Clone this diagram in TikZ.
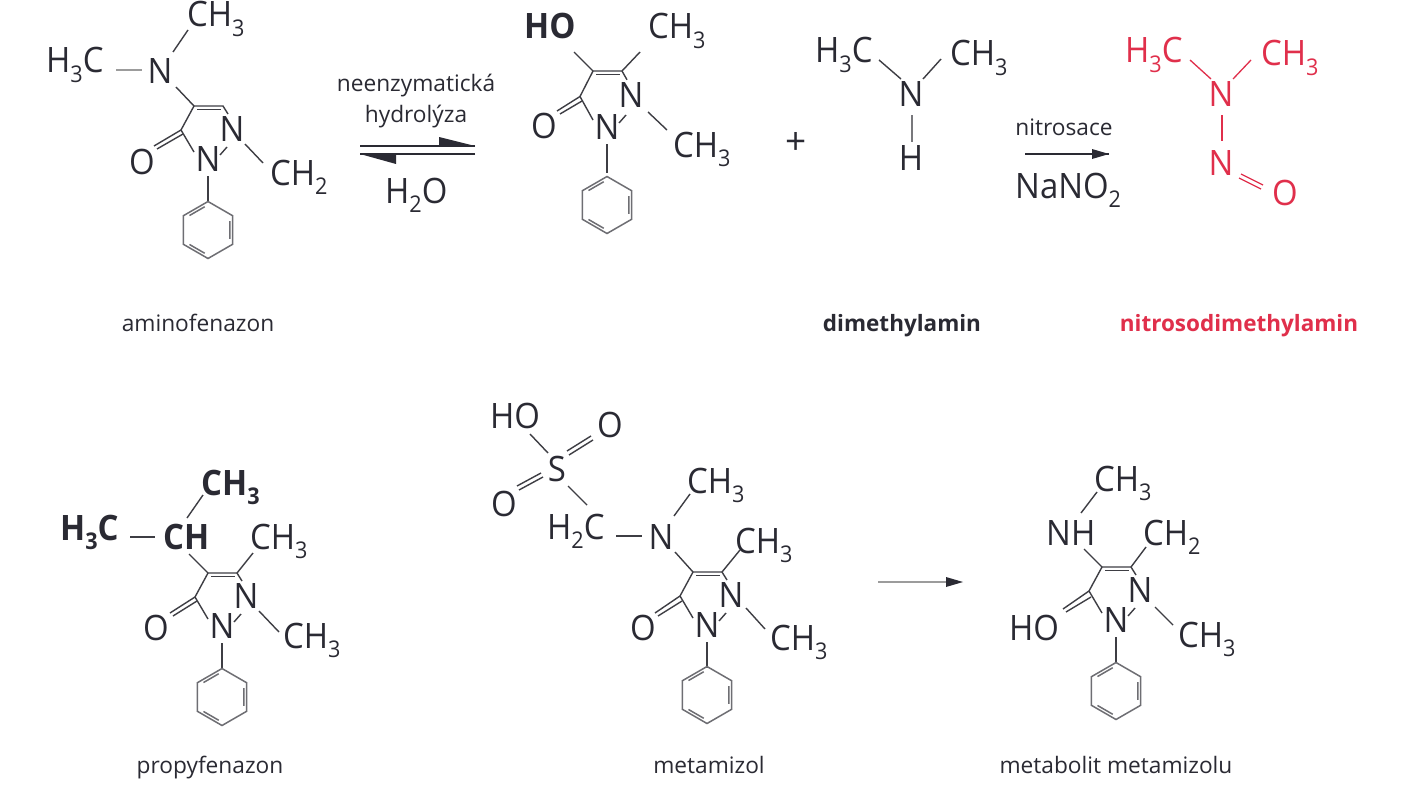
\documentclass[tikz,border=0pt]{standalone}
\usepackage{fontspec}
\setmainfont{Open Sans}
\newfontfamily\atomfont[FakeStretch=0.94]{Open Sans}
\usetikzlibrary{arrows.meta}
\definecolor{ink}{HTML}{2A2A33}
\definecolor{bondc}{HTML}{3E3E44}
\definecolor{softc}{HTML}{9C9C9C}
\definecolor{redc}{HTML}{E02F4B}
\newcommand\subs[1]{\raisebox{-0.26em}{\fontsize{23}{23}\selectfont #1}}
\tikzset{
  x=1pt,y=-1pt,
  atomw/.style={inner sep=0pt,anchor=base west,yshift=-13pt,font=\atomfont\fontsize{35}{35}\selectfont,text=ink},
  atomc/.style={inner sep=0pt,anchor=base,yshift=-13pt,font=\atomfont\fontsize{35}{35}\selectfont,text=ink},
  boldw/.style={atomw,font=\atomfont\fontsize{35}{35}\selectfont\bfseries},
  caption/.style={inner sep=0pt,anchor=base,font=\fontsize{22.7}{22.7}\selectfont,text=ink},
  boldcaption/.style={caption,font=\fontsize{22.5}{22.5}\selectfont\bfseries},
  bond/.style={draw=bondc,line width=1.4pt},
  ringbond/.style={draw=bondc!75,line width=1.5pt},
  softbond/.style={draw=softc,line width=2.4pt},
  redbond/.style={draw=redc,line width=1.3pt},
  arrowline/.style={draw=ink,line width=1.4pt},
  softarrow/.style={draw=softc,line width=2.4pt},
  headfill/.style={fill=ink,draw=none},
}
% phenyl ring: prefix, centre x, centre y
\newcommand\phenyl[3]{%
  \begin{scope}[shift={(#2,#3)}]
    \coordinate (#1p1) at (270:28.5); \coordinate (#1p2) at (330:28.5);
    \coordinate (#1p3) at (30:28.5);  \coordinate (#1p4) at (90:28.5);
    \coordinate (#1p5) at (150:28.5); \coordinate (#1p6) at (210:28.5);
    \draw[ringbond,line join=miter] (#1p1)--(#1p2)--(#1p3)--(#1p4)--(#1p5)--(#1p6)--cycle;
    \draw[ringbond] (262:23.5)--(218:23.5) (338:23.5)--(22:23.5) (98:23.5)--(142:23.5);
  \end{scope}}
% pyrazolone core: prefix, C4 x, C4 y, stretch of lower part
\newcommand\core[4]{%
  \begin{scope}[shift={(#2,#3)}]
    \coordinate (#1c4) at (0,0);
    \coordinate (#1c5) at (29,0);
    \coordinate (#1c3) at (-13,{24+#4/2});
    \node[atomc] (#1n2) at (38,{22+#4/2}) {N};
    \node[atomc] (#1n1) at (14,{52+#4}) {N};
    \coordinate (#1e1) at (34,{8+#4/4});
    \coordinate (#1e2) at (0,{46+#4});
    \coordinate (#1e3) at (26,{49+#4});
    \coordinate (#1e4) at (33,{41+#4});
    \coordinate (#1e5) at (14,{70+#4});
    \coordinate (#1e6) at (14,{96+#4*2});
    \coordinate (#1i1) at (3,3.5);
    \coordinate (#1i2) at (27,3.5);
    \draw[bond] (#1c3)--(#1c4)--(#1c5)--(#1e1);
    \draw[bond] (#1i1)--(#1i2);
    \draw[bond] (#1c3)--(#1e2);
    \draw[bond] (#1e3)--(#1e4);
    \draw[bond] (#1e5)--(#1e6);
  \end{scope}}
\begin{document}
\begin{tikzpicture}
\useasboundingbox (0,0) rectangle (1407,800);
\fill[white] (0,0) rectangle (1407,800);

% ---------- aminofenazon
\core{a}{194}{106}{0}
\phenyl{a}{208}{230}
\node[atomw] (aH) at (46,60) {H\subs{3}C};
\node[atomc] (aN) at (160,70) {N};
\node[atomw] (aM) at (187,14) {CH\subs{3}};
\node[atomc] (aO) at (142,161) {O};
\node[atomw] (aR) at (270,172) {CH\subs{2}};
\coordinate (ab1) at (116,70); \coordinate (ab2) at (142,70);
\coordinate (ab3) at (188,30); \coordinate (ab4) at (173,52);
\coordinate (ab5) at (176,87);
\coordinate (ab6) at (154,146); \coordinate (ab7) at (183,134); \coordinate (ab8) at (157,149);
\coordinate (ab9) at (245,144); \coordinate (ab10) at (263,163);
\draw[softbond] (ab1)--(ab2);
\draw[bond] (ab3)--(ab4);
\draw[bond] (ab5)--(ac4);
\draw[bond] (ac3)--(ab6);
\draw[bond] (ab7)--(ab8);
\draw[bond] (ab9)--(ab10);
\node[caption] (acap) at (198,331) {aminofenazon};

% ---------- equilibrium
\node[caption] (eq1) at (416,91) {neenzymatická};
\node[caption] (eq2) at (416,122) {hydrolýza};
\node[atomw] (eq3) at (385,190) {H\subs{2}O};
\coordinate (q1) at (360,146); \coordinate (q2) at (475,146); \coordinate (q3) at (439,137);
\coordinate (q4) at (475,154); \coordinate (q5) at (360,154); \coordinate (q6) at (396,164);
\coordinate (q7) at (396,154); \coordinate (q8) at (439,146);
\draw[arrowline] (q1)--(q2);
\draw[arrowline] (q4)--(q5);
\path[headfill] (q2)--(q3)--(q8)--cycle;
\path[headfill] (q5)--(q6)--(q7)--cycle;

% ---------- hydroxy compound
\core{b}{593}{71}{3}
\phenyl{b}{607}{205}
\node[boldw] (bHO) at (524,26) {HO};
\node[atomw] (bM) at (648,26) {CH\subs{3}};
\node[atomc] (bO) at (544,125) {O};
\node[atomw] (bR) at (673,144) {CH\subs{3}};
\coordinate (bb1) at (574,52); \coordinate (bb2) at (640,52);
\coordinate (bb3) at (557,111); \coordinate (bb4) at (582,101); \coordinate (bb5) at (560,114);
\coordinate (bb6) at (648,112); \coordinate (bb7) at (667,130);
\draw[bond] (bb1)--(bc4);
\draw[bond] (bb2)--(bc5);
\draw[bond] (bc3)--(bb3);
\draw[bond] (bb4)--(bb5);
\draw[bond] (bb6)--(bb7);

\node[atomc,font=\fontsize{37}{37}\selectfont,yshift=1pt] (plus) at (796,142) {+};

% ---------- dimethylamin
\node[atomw] (cL) at (815,50) {H\subs{3}C};
\node[atomw] (cR) at (950,53) {CH\subs{3}};
\node[atomc] (cN) at (911,93) {N};
\node[atomc] (cH) at (911,157) {H};
\coordinate (cb1) at (879,60); \coordinate (cb2) at (901,79);
\coordinate (cb3) at (941,59); \coordinate (cb4) at (923,79);
\coordinate (cb5) at (912,115); \coordinate (cb6) at (912,142);
\draw[bond] (cb1)--(cb2);
\draw[bond] (cb3)--(cb4);
\draw[bond,draw=bondc!70] (cb5)--(cb6);
\node[boldcaption] (ccap) at (902,331) {dimethylamin};

% ---------- nitrosace arrow
\node[caption] (ni) at (1064,135) {nitrosace};
\node[atomw] (na) at (1015,185) {NaNO\subs{2}};
\coordinate (n1) at (1025,154); \coordinate (n2) at (1109,154);
\draw[arrowline] (n1)--(n2);
\coordinate (n3) at (1092,149); \coordinate (n4) at (1092,159);
\path[headfill] (n2)--(n3)--(n4)--cycle;

% ---------- nitrosodimethylamin
\node[atomw,text=redc] (dL) at (1125,50) {H\subs{3}C};
\node[atomw,text=redc] (dR) at (1261,53) {CH\subs{3}};
\node[atomc,text=redc] (dN) at (1221,93) {N};
\node[atomc,text=redc] (dN2) at (1221,162) {N};
\node[atomc,text=redc] (dO) at (1285,192) {O};
\coordinate (db1) at (1190,60); \coordinate (db2) at (1211,79);
\coordinate (db3) at (1251,60); \coordinate (db4) at (1233,79);
\coordinate (db5) at (1222,115); \coordinate (db6) at (1222,141);
\coordinate (db7) at (1241,174); \coordinate (db8) at (1263,185);
\coordinate (db9) at (1239,178); \coordinate (db10) at (1261,189);
\draw[redbond] (db1)--(db2);
\draw[redbond] (db3)--(db4);
\draw[redbond] (db5)--(db6);
\draw[redbond] (db7)--(db8);
\draw[redbond] (db9)--(db10);
\node[boldcaption,text=redc] (dcap) at (1239,331) {nitrosodimethylamin};

% ---------- propyfenazon
\core{e}{208}{573}{0}
\phenyl{e}{222}{697}
\node[boldw] (eL) at (60,527) {H\subs{3}C};
\node[boldw] (eC) at (163,536) {CH};
\node[boldw] (eT) at (201,482) {CH\subs{3}};
\node[atomw] (eM) at (250,536) {CH\subs{3}};
\node[atomc] (eO) at (156,627) {O};
\node[atomw] (eR) at (283,635) {CH\subs{3}};
\coordinate (eb1) at (130,537); \coordinate (eb2) at (155,537);
\coordinate (eb3) at (187,518); \coordinate (eb4) at (203,495);
\coordinate (eb5) at (189,554); \coordinate (eb6) at (253,553);
\coordinate (eb7) at (170,613); \coordinate (eb8) at (197,601); \coordinate (eb9) at (173,616);
\coordinate (eb10) at (259,611); \coordinate (eb11) at (279,632);
\draw[bond,line width=1.7pt] (eb1)--(eb2);
\draw[bond] (eb3)--(eb4);
\draw[bond] (eb5)--(ec4);
\draw[bond] (ec5)--(eb6);
\draw[bond] (ec3)--(eb7);
\draw[bond] (eb8)--(eb9);
\draw[bond] (eb10)--(eb11);
\node[caption] (ecap) at (210,773) {propyfenazon};

% ---------- metamizol
\core{f}{693}{572}{0}
\phenyl{f}{707}{695}
\node[atomw] (fHO) at (490,415) {HO};
\node[atomc] (fOa) at (610,424) {O};
\node[atomc] (fOb) at (504,503) {O};
\node[atomc] (fS) at (557,468) {S};
\node[atomw] (fL) at (547,526) {H\subs{2}C};
\node[atomc] (fN) at (661,536) {N};
\node[atomw] (fT) at (687,480) {CH\subs{3}};
\node[atomw] (fM) at (735,540) {CH\subs{3}};
\node[atomc] (fO) at (643,627) {O};
\node[atomw] (fR) at (770,637) {CH\subs{3}};
\coordinate (fb1) at (616,536); \coordinate (fb2) at (642,536);
\coordinate (fb3) at (587,505); \coordinate (fb4) at (568,486);
\coordinate (fb5) at (548,453); \coordinate (fb6) at (530,434);
\coordinate (fb7) at (567,451); \coordinate (fb8) at (591,436);
\coordinate (fb9) at (569,455); \coordinate (fb10) at (593,440);
\coordinate (fb11) at (541,473); \coordinate (fb12) at (517,486);
\coordinate (fb13) at (543,477); \coordinate (fb14) at (519,490);
\coordinate (fb15) at (675,552); \coordinate (fb16) at (674,516); \coordinate (fb17) at (690,494);
\coordinate (fb18) at (740,550);
\coordinate (fb19) at (655,613); \coordinate (fb20) at (682,601); \coordinate (fb21) at (658,616);
\coordinate (fb22) at (746,608); \coordinate (fb23) at (765,629);
\draw[bond] (fb1)--(fb2);
\draw[bond] (fb3)--(fb4);
\draw[bond] (fb5)--(fb6);
\draw[bond] (fb7)--(fb8);
\draw[bond] (fb9)--(fb10);
\draw[bond] (fb11)--(fb12);
\draw[bond] (fb13)--(fb14);
\draw[bond] (fb15)--(fc4);
\draw[bond] (fb16)--(fb17);
\draw[bond] (fc5)--(fb18);
\draw[bond] (fc3)--(fb19);
\draw[bond] (fb20)--(fb21);
\draw[bond] (fb22)--(fb23);
\node[caption] (fcap) at (709,773) {metamizol};

% ---------- arrow
\coordinate (g1) at (878,582); \coordinate (g2) at (963,582);
\coordinate (g3) at (946,577); \coordinate (g4) at (946,587);
\coordinate (g5) at (948,582);
\draw[softarrow] (g1)--(g5);
\path[headfill] (g2)--(g3)--(g4)--cycle;

% ---------- metabolit
\core{h}{1102}{567}{0}
\phenyl{h}{1116}{691}
\node[atomw] (hT) at (1094,478) {CH\subs{3}};
\node[atomw] (hNH) at (1046,532) {NH};
\node[atomw] (hM) at (1143,532) {CH\subs{2}};
\node[atomw] (hO) at (1009,627) {HO};
\node[atomw] (hR) at (1178,634) {CH\subs{3}};
\coordinate (hb1) at (1081,513); \coordinate (hb2) at (1097,492);
\coordinate (hb3) at (1084,549); \coordinate (hb4) at (1146,547);
\coordinate (hb5) at (1063,609); \coordinate (hb6) at (1091,597); \coordinate (hb7) at (1066,612);
\coordinate (hb8) at (1155,607); \coordinate (hb9) at (1173,625);
\draw[bond] (hb1)--(hb2);
\draw[bond] (hb3)--(hc4);
\draw[bond] (hc5)--(hb4);
\draw[bond] (hc3)--(hb5);
\draw[bond] (hb6)--(hb7);
\draw[bond] (hb8)--(hb9);
\node[caption] (hcap) at (1116,773) {metabolit metamizolu};
\end{tikzpicture}
\end{document}
